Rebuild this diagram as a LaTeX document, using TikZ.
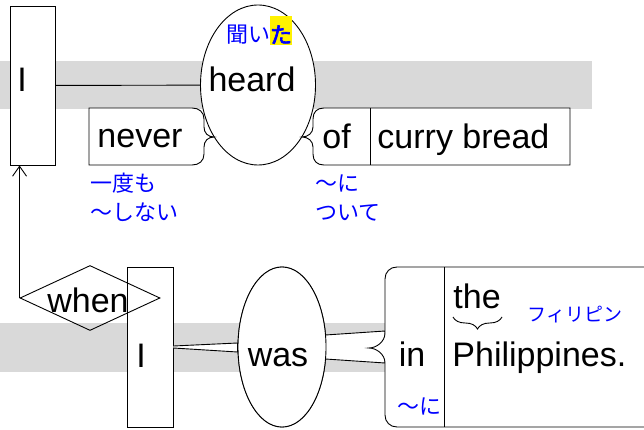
\documentclass[tikz,border=0pt]{standalone}
\usepackage{fontspec}
\setmainfont{Liberation Sans}
\newfontfamily\jpfont[AutoFakeBold=3]{Noto Sans CJK JP}
\usetikzlibrary{calc, shapes.geometric, arrows.meta, decorations.pathreplacing}
\setlength{\fboxsep}{0pt}
\tikzset{
	en/.style = {font=\fontsize{34}{40}\selectfont, inner sep=0pt},
	jp/.style = {font=\jpfont\fontsize{22}{28}\selectfont, text=blue, inner sep=0pt},
	word/.style = {draw, fill=white, inner sep=0pt},
	band/.style = {fill=black!15},
}

\begin{document}
\begin{tikzpicture}[x=1pt, y=-1pt, line width=0.9pt]
			\def\H{160};
			\useasboundingbox (0,0) rectangle (644,430);
			\clip (0,0) rectangle (644,430);

			\fill [band] (0,61) rectangle (592,109);
			\fill [band] (0,323) rectangle (386,372);

			\begin{scope}
				\node (Itop) [word, rectangle, minimum width=45, minimum height=159] at (32.5,85.5) {};
				\node (heard) [word, ellipse, minimum width=115, minimum height=\H] at (258,85) {};
				\draw (Itop) -- (heard);

				\draw [fill=white] (89,108) -- (192,108) .. controls (199,108) and (204,112) .. (204,119)
					-- (204,127) .. controls (204,133) and (208,137) .. (214,137)
					.. controls (208,137) and (204,141) .. (204,147)
					-- (204,154) .. controls (204,161) and (199,165) .. (192,165) -- (89,165) -- cycle;

				\draw [fill=white] (570,108) -- (324,108) .. controls (317,108) and (313,112) .. (313,119)
					-- (313,127) .. controls (313,133) and (308,137) .. (302,137)
					.. controls (308,137) and (313,141) .. (313,147)
					-- (313,154) .. controls (313,161) and (317,165) .. (324,165) -- (570,165) -- cycle;
				\draw (370,108) -- (370,165);
			\end{scope}

			\begin{scope}
				\node (Ibot) [word, rectangle, minimum width=46, minimum height=\H] at (150,347) {};
				\node (was) [word, ellipse, minimum width=88, minimum height=\H] at (282,347) {};
				\coordinate (inbrace) at (369,348);

				\draw [fill=white] ($(Ibot.east)+(0,-1)$) -- ($(was.west)+(0,-4)$) -- ($(was.west)+(0,5)$) -- ($(Ibot.east)+(0,1)$);
				\draw [fill=white] ($(was.east)+(-1,-12)$) -- ($(inbrace)+(16,-17)$) -- ($(inbrace)+(16,15)$) -- ($(was.east)+(-1,12)$);
				\node [word, ellipse, minimum width=88, minimum height=\H] at (was) {};

				\draw [fill=white] (650,267) -- (397,267) .. controls (390,267) and (385,272) .. (385,279)
					-- (385,333) .. controls (385,342) and (376,348) .. (inbrace)
					.. controls (376,348) and (385,354) .. (385,363)
					-- (385,415) .. controls (385,422) and (390,427) .. (397,427) -- (650,427) -- cycle;
				\draw (444,267) -- (444,427);

				\node (when) [draw, diamond, minimum width=140, minimum height=65, inner sep=0pt] at (90,298) {};
				\draw [-{Straight Barb[length=10pt, width=14pt]}] (when.west) -- (when.west |- Itop.south);
			\end{scope}

			\node (tItop) [en, anchor=base] at (22,92) {I};
			\node (theard) [en, anchor=base] at (252,92) {heard};
			\node (jheard) [jp, anchor=base] at (259,43) {聞い\colorbox{yellow}{\rule[-2pt]{0pt}{29pt}\bfseries た}};
			\node (tnever) [en, anchor=base west] at (97,148) {never};
			\node (tof) [en, anchor=base west] at (322,149) {of};
			\node (tcurry) [en, anchor=base west] at (377,149) {curry bread};
			\node (jnever) [jp, anchor=base west] at (90,192) {一度も};
			\node (jnever2) [jp, anchor=base west] at (90,220) {〜しない};
			\node (jof) [jp, anchor=base west] at (315,192) {〜に};
			\node (jof2) [jp, anchor=base west] at (315,220) {ついて};

			\node (twhen) [en, anchor=base] at (88,312) {when};
			\node (tIbot) [en, anchor=base] at (141,367) {I};
			\node (twas) [en, anchor=base] at (278,366) {was};
			\node (tin) [en, anchor=base] at (412,366) {in};
			\node (jin) [jp, anchor=base west] at (397,414) {〜に};
			\node (tthe) [en, anchor=base west] at (453,308) {the};
			\node (tphil) [en, anchor=base west] at (452,366) {Philippines.};
			\node (jphil) [jp, font=\jpfont\fontsize{19}{22}\selectfont, anchor=base west] at (527,321) {フィリピン};
			\draw [decorate, decoration={brace, amplitude=12pt, mirror}] (453,317) -- (502,317);
		\end{tikzpicture}
\end{document}
